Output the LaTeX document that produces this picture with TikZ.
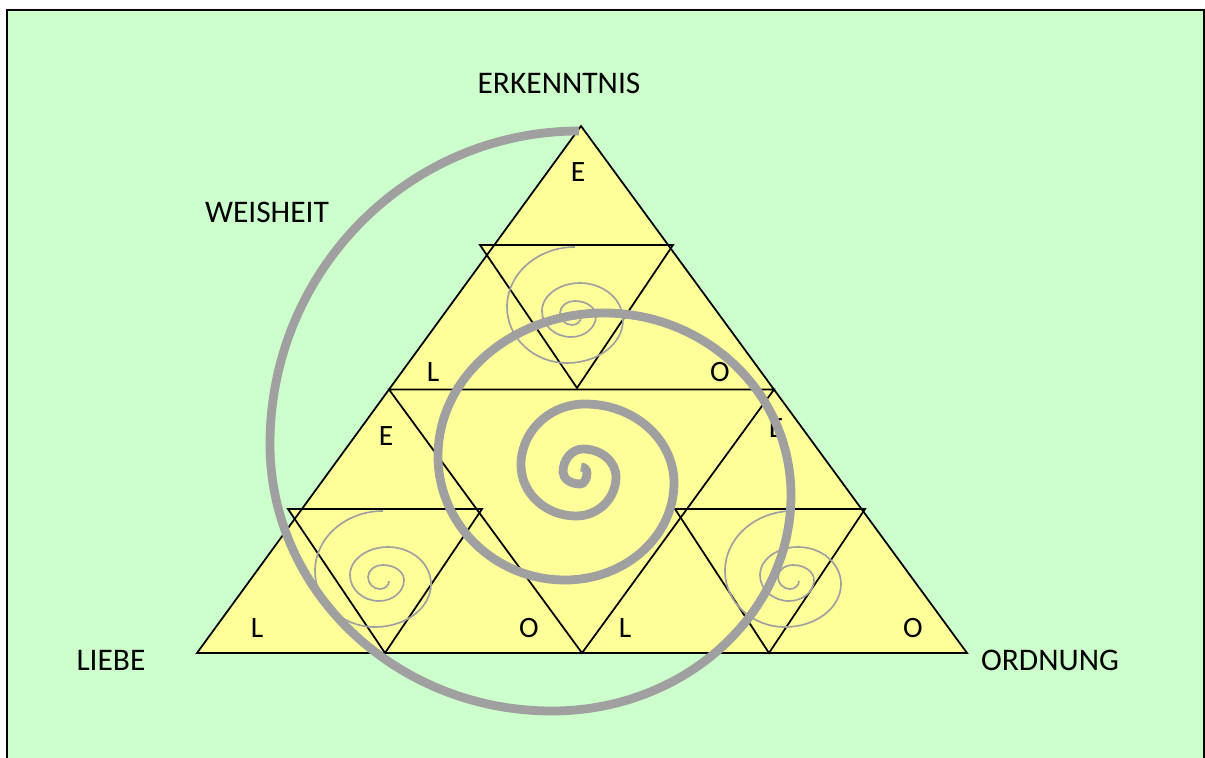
\documentclass[tikz,border=0pt]{standalone}
\usepackage{fontspec}
\setmainfont{Carlito}
\definecolor{bggreen}{RGB}{204,255,204}
\definecolor{triyellow}{RGB}{255,255,153}
\definecolor{spiralgray}{RGB}{160,160,160}
\tikzset{
  triline/.style={draw=black, line width=1pt, line join=miter},
  bigspiral/.style={draw=spiralgray, line width=5pt},
  smallspiral/.style={draw=spiralgray, line width=0.95pt},
  letter/.style={font=\fontsize{16.8}{19}\selectfont, inner sep=0pt},
  word/.style={font=\fontsize{17.9}{20}\selectfont, inner sep=0pt},
}

\begin{document}
\begin{tikzpicture}[x=0.02cm, y=-0.02cm]
    \useasboundingbox (0,0) rectangle (1205,758);
    \fill[white] (0,0) rectangle (1205,758);
    \draw[fill=bggreen, line width=1.1pt] (7,10) rectangle (1204,780);

    % big triangle and the inverted ones
    \coordinate (apex) at (581,126);
    \coordinate (bl) at (197,653);
    \coordinate (br) at (967,653);
    \coordinate (ml) at (389,389.5);
    \coordinate (mr) at (774,389.5);
    \coordinate (mb) at (582,653);
    \fill[triyellow] (apex) -- (bl) -- (br) -- cycle;
    \foreach \ax/\ay/\bx/\by/\cx/\cy in {480/245/673/245/577/388,
        288/509/482/509/385/653, 675/509/865/509/769/653}{
      \fill[triyellow] (\ax,\ay) -- (\bx,\by) -- (\cx,\cy) -- cycle;
    }
    \draw[triline] (apex) -- (bl) -- (br) -- cycle;
    \draw[triline] (ml) -- (mr) -- (mb) -- cycle;
    \foreach \ax/\ay/\bx/\by/\cx/\cy in {480/245/673/245/577/388,
        288/509/482/509/385/653, 675/509/865/509/769/653}{
      \draw[triline] (\ax,\ay) -- (\bx,\by) -- (\cx,\cy) -- cycle;
    }

    % labels
    \node[word] (erkenntnis) at (559,83) {ERKENNTNIS};
    \node[word] (weisheit) at (267,212) {WEISHEIT};
    \node[word] (liebe) at (111,660) {LIEBE};
    \node[word] (ordnung) at (1050,660) {ORDNUNG};
    \foreach \x/\y/\t [count=\n] in {578/172/E, 433/372/L, 720/372/O,
        386/436/E, 776/428/E, 257/628/L, 529/628/O, 625/628/L, 913/628/O}{
      \node[letter] (corner\n) at (\x,\y) {\t};
    }

    % small spirals
    \foreach \sx/\sy in {575/247, 383/511, 793/511}{
      \draw[smallspiral] (\sx,\sy)
        \foreach \rx/\ry [count=\k] in {68/60, 60/56, 56/43, 43/37, 38/28,
            29/26, 25/21, 21/15, 15/12, 12/12, 9/8}{
          arc[start angle={360-90*\k}, delta angle=-90, x radius=\rx, y radius=\ry]
        };
    }

    % big spiral
    \draw[bigspiral] (579,131)
      \foreach \rx/\ry [count=\k] in {309/313, 282/267, 239/216, 187/182,
          166/143, 127/124, 109/97, 89/79, 64/61, 55/51, 40/39, 33/28,
          20/23, 17/12, 7/11, 6/6}{
        arc[start angle={360-90*\k}, delta angle=-90, x radius=\rx, y radius=\ry]
      };
  \end{tikzpicture}
\end{document}
